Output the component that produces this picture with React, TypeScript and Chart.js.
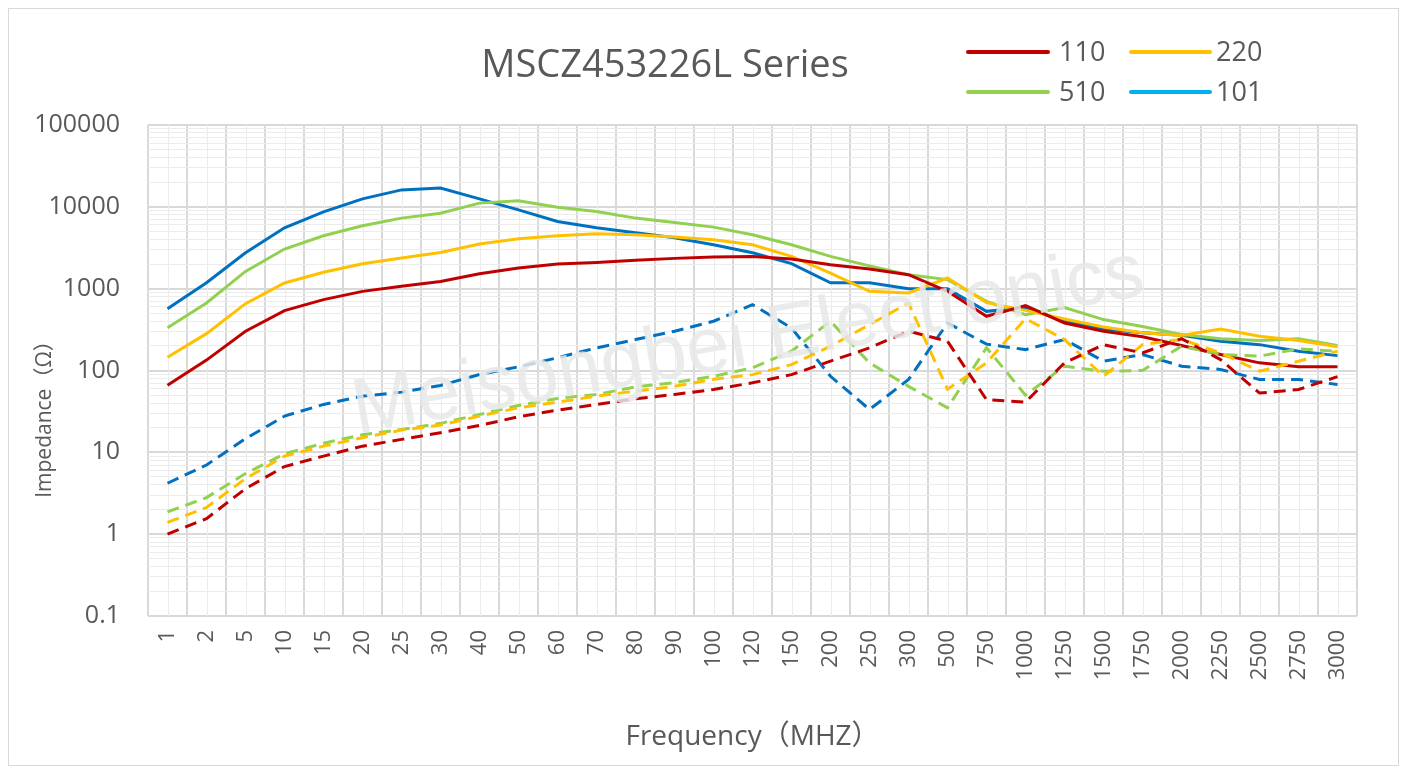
import React, { useEffect, useRef } from "react";
import { Chart, registerables } from "chart.js";

Chart.register(...registerables);

const chartTitle = "MSCZ453226L Series";
const xTitle = "Frequency（MHZ）";
const yTitle = "Impedance（Ω）";
const watermark = "Meisongbei Electronics";

const frequencies = ["1", "2", "5", "10", "15", "20", "25", "30", "40", "50", "60", "70", "80", "90", "100", "120", "150", "200", "250", "300", "500", "750", "1000", "1250", "1500", "1750", "2000", "2250", "2500", "2750", "3000"];

// Solid curves
const z110 = [66, 134, 302, 540, 735, 927, 1067, 1227, 1523, 1787, 2000, 2094, 2220, 2345, 2430, 2480, 2300, 1960, 1740, 1480, 927, 460, 621, 381, 302, 258, 202, 157, 124, 111, 111];
const z220 = [145, 282, 656, 1175, 1590, 2020, 2370, 2770, 3510, 4070, 4430, 4690, 4560, 4270, 3960, 3440, 2480, 1550, 927, 885, 1350, 675, 543, 427, 341, 289, 267, 322, 262, 232, 195];
const z510 = [332, 668, 1625, 3050, 4430, 5860, 7280, 8370, 11100, 11900, 9900, 8770, 7280, 6440, 5650, 4560, 3440, 2480, 1900, 1480, 1290, 700, 482, 587, 419, 344, 275, 245, 232, 245, 202];
const z101 = [570, 1183, 2750, 5540, 8690, 12500, 16100, 17000, 12500, 9190, 6620, 5540, 4820, 4190, 3440, 2750, 2020, 1180, 1180, 1000, 1000, 528, 587, 400, 322, 289, 270, 228, 207, 172, 152];

// Dashed curves
const r110 = [1.0, 1.55, 3.6, 6.7, 9.0, 11.9, 14.4, 17.4, 21.3, 27.2, 32.8, 38.5, 45, 51, 58.6, 70.8, 89, 130, 189, 302, 228, 44, 41, 124, 207, 164, 245, 136, 53, 58.6, 84];
const r220 = [1.39, 2.12, 4.77, 9.0, 11.9, 15.1, 18.7, 21.5, 27.7, 35, 41, 48.6, 56, 64, 78, 89, 118, 198, 364, 668, 59, 124, 430, 239, 85, 207, 240, 164, 98, 130, 172];
const r510 = [1.87, 2.8, 5.5, 9.6, 12.9, 16.4, 19, 22.6, 29, 37.4, 45.6, 51, 63, 71, 85, 108, 172, 400, 124, 64, 35, 190, 50, 113, 98, 100, 198, 157, 150, 184, 172];
const r101 = [4.19, 7.0, 14.7, 27.7, 38.5, 48.6, 54.4, 65.6, 89.3, 111, 143, 189, 239, 302, 400, 638, 331, 85, 33.4, 77.6, 381, 210, 180, 239, 130, 157, 113, 103, 77.6, 77.6, 67.5];

const seriesNames = ["110", "220", "510", "101"];
const seriesColors = ["#C00000", "#FFC000", "#92D050", "#0070C0"];
const legendColors = ["#C00000", "#FFC000", "#92D050", "#00B0F0"];

const yMin = 0.1;
const yMax = 100000;

const FONT = "'Open Sans', 'Noto Sans CJK SC', sans-serif";
const TEXT = "#595959";

function isDecade(v: number) {
  const l = Math.log10(v);
  return Math.abs(l - Math.round(l)) < 1e-9;
}

function logTicks() {
  const out: { value: number }[] = [];
  for (let e = -1; e <= 4; e++) {
    for (let m = 1; m <= 9; m++) {
      out.push({ value: Number((m * Math.pow(10, e)).toPrecision(3)) });
    }
  }
  out.push({ value: yMax });
  return out;
}

const overlayPlugin = {
  id: "overlay",
  beforeDatasetsDraw(chart: any) {
    const { ctx, chartArea, scales } = chart;
    const x = scales.x;
    ctx.save();
    ctx.strokeStyle = "#ececec";
    ctx.lineWidth = 1;
    for (let i = 0; i < frequencies.length; i++) {
      const px = Math.round(x.getPixelForValue(i)) + 0.5;
      ctx.beginPath();
      ctx.moveTo(px, chartArea.top);
      ctx.lineTo(px, chartArea.bottom);
      ctx.stroke();
    }
    ctx.restore();
  },
  afterDatasetsDraw(chart: any) {
    const { ctx, chartArea } = chart;
    ctx.save();
    ctx.beginPath();
    ctx.rect(chartArea.left, chartArea.top, chartArea.right - chartArea.left, chartArea.bottom - chartArea.top);
    ctx.clip();
    ctx.translate(743, 355);
    ctx.rotate((-10 * Math.PI) / 180);
    ctx.font = `78px 'Liberation Sans', Arial, sans-serif`;
    ctx.fillStyle = "rgba(230,232,232,0.85)";
    ctx.textAlign = "center";
    ctx.textBaseline = "alphabetic";
    ctx.fillText(watermark, 0, 0);
    ctx.restore();
  },
  afterDraw(chart: any) {
    const { ctx } = chart;
    ctx.save();
    // chart title
    ctx.fillStyle = TEXT;
    ctx.font = `38px ${FONT}`;
    ctx.textAlign = "center";
    ctx.textBaseline = "middle";
    ctx.fillText(chartTitle, 656, 57);

    // y-axis title
    ctx.save();
    ctx.translate(36, 405);
    ctx.rotate(-Math.PI / 2);
    ctx.font = `21px ${FONT}`;
    ctx.fillText(yTitle, 0, 0);
    ctx.restore();

    // legend (solid series only)
    const cols = [
      { x0: 959, x1: 1039, tx: 1050 },
      { x0: 1122, x1: 1201, tx: 1207 },
    ];
    const rows = [43, 83];
    ctx.font = `27px ${FONT}`;
    ctx.textAlign = "left";
    ctx.lineCap = "round";
    ctx.lineWidth = 4;
    seriesNames.forEach((name, i) => {
      const c = cols[i % 2];
      const y = rows[Math.floor(i / 2)];
      ctx.strokeStyle = legendColors[i];
      ctx.beginPath();
      ctx.moveTo(c.x0, y);
      ctx.lineTo(c.x1, y);
      ctx.stroke();
      ctx.fillStyle = TEXT;
      ctx.fillText(name, c.tx, y + 1);
    });
    ctx.restore();
  },
};

export default function App() {
  const canvasRef = useRef<HTMLCanvasElement | null>(null);

  useEffect(() => {
    if (!canvasRef.current) return;
    const solid = [z110, z220, z510, z101];
    const dashed = [r110, r220, r510, r101];
    const datasets: any[] = [];
    dashed.forEach((d, i) => {
      datasets.push({
        label: `${seriesNames[i]} R`,
        data: d,
        borderColor: seriesColors[i],
        backgroundColor: seriesColors[i],
        borderWidth: 3,
        borderDash: [12, 7],
        pointRadius: 0,
        fill: false,
      });
    });
    solid.forEach((d, i) => {
      datasets.push({
        label: seriesNames[i],
        data: d,
        borderColor: seriesColors[i],
        backgroundColor: seriesColors[i],
        borderWidth: 3,
        pointRadius: 0,
        fill: false,
      });
    });

    const chart = new Chart(canvasRef.current, {
      type: "line",
      data: { labels: frequencies, datasets },
      plugins: [overlayPlugin],
      options: {
        animation: false,
        responsive: true,
        maintainAspectRatio: false,
        layout: { padding: { left: 0, right: 41, top: 116, bottom: 0 } },
        plugins: {
          legend: { display: false },
          title: { display: false },
          tooltip: { enabled: false },
        },
        elements: { line: { tension: 0 }, point: { radius: 0 } },
        scales: {
          x: {
            type: "category",
            offset: true,
            grid: { offset: true, color: "#d9d9d9", lineWidth: 2, drawTicks: false },
            border: { display: false },
            ticks: {
              autoSkip: false,
              minRotation: 90,
              maxRotation: 90,
              padding: 14,
              color: TEXT,
              font: { family: FONT, size: 22 },
            },
            title: {
              display: true,
              text: xTitle,
              color: TEXT,
              font: { family: FONT, size: 28 },
              padding: { top: 0, bottom: 11 },
            },
            afterFit(s: any) {
              s.height = 149;
            },
          },
          y: {
            type: "logarithmic",
            min: yMin,
            max: yMax,
            afterBuildTicks(s: any) {
              s.ticks = logTicks();
            },
            grid: {
              drawTicks: false,
              color: (c: any) => (c.tick && isDecade(c.tick.value) ? "#d9d9d9" : "#ececec"),
              lineWidth: (c: any) => (c.tick && isDecade(c.tick.value) ? 2 : 1),
            },
            border: { display: false },
            ticks: {
              autoSkip: false,
              padding: 28,
              color: TEXT,
              font: { family: FONT, size: 25 },
              callback: (v: any) => (isDecade(Number(v)) ? String(Number(v)) : ""),
            },
            title: { display: false },
            afterFit(s: any) {
              s.width = 139;
            },
          },
        },
      } as any,
    });
    return () => chart.destroy();
  }, []);

  return (
    <div style={{ border: "1px solid #d9d9d9", height: 756, position: "relative", background: "#fff" }}>
      <canvas ref={canvasRef} />
    </div>
  );
}
